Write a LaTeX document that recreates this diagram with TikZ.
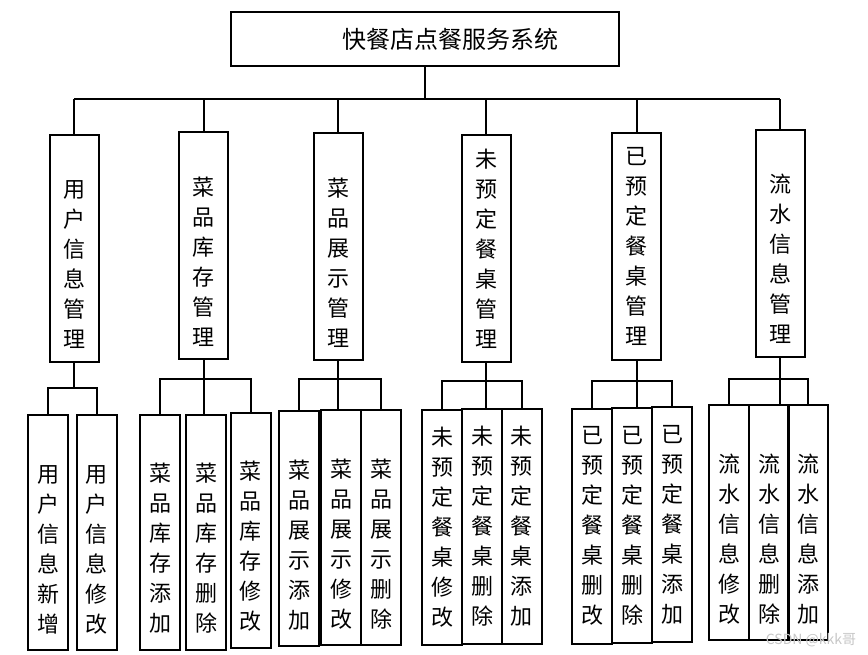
\documentclass[tikz,border=0pt]{standalone}
\usepackage{fontspec}
\setmainfont{Noto Sans CJK SC}

\begin{document}
\begin{tikzpicture}[x=0.75pt, y=-0.75pt, line width=1.5pt,
    sysbox/.style={draw, minimum width=291pt, minimum height=40.5pt, inner sep=0pt, font=\fontsize{18}{20}\selectfont},
    modbox/.style={draw, minimum width=36.75pt, minimum height=170.25pt, inner sep=0pt, align=center, font=\fontsize{16.5}{22.5}\selectfont},
    leafbox/.style={draw, minimum width=30pt, minimum height=176.25pt, inner sep=0pt, align=center, font=\fontsize{16.5}{22.5}\selectfont}
]
    \useasboundingbox (0,0) rectangle (868,654);
    % top
    \node[sysbox] (root) at (425,39) {\hspace*{37.5pt}快餐店点餐服务系统};
    % modules
    \node[modbox] (um) at (74,248) {\strut\\用\\户\\信\\息\\管\\理};
    \node[modbox] (sk) at (203.5,245.5) {\strut\\菜\\品\\库\\存\\管\\理};
    \node[modbox] (sz) at (338,246.5) {\strut\\菜\\品\\展\\示\\管\\理};
    \node[modbox] (wy) at (486,248.5) {未\\预\\定\\餐\\桌\\管\\理};
    \node[modbox] (yy) at (636.5,246.5) {已\\预\\定\\餐\\桌\\管\\理};
    \node[modbox] (ls) at (780,243) {\strut\\流\\水\\信\\息\\管\\理};
    % leaves
    \node[leafbox] (umA) at (48,532.5) {\strut\\用\\户\\信\\息\\新\\增};
    \node[leafbox] (umB) at (96.5,532.5) {\strut\\用\\户\\信\\息\\修\\改};
    \node[leafbox] (skA) at (160,532) {\strut\\菜\\品\\库\\存\\添\\加};
    \node[leafbox] (skB) at (206,532) {\strut\\菜\\品\\库\\存\\删\\除};
    \node[leafbox] (skC) at (250.5,530) {\strut\\菜\\品\\库\\存\\修\\改};
    \node[leafbox] (szA) at (299,528.5) {\strut\\菜\\品\\展\\示\\添\\加};
    \node[leafbox] (szB) at (341,527.5) {\strut\\菜\\品\\展\\示\\修\\改};
    \node[leafbox] (szC) at (381,527.5) {\strut\\菜\\品\\展\\示\\删\\除};
    \node[leafbox] (wyA) at (442,527) {未\\预\\定\\餐\\桌\\修\\改};
    \node[leafbox] (wyB) at (482,526) {未\\预\\定\\餐\\桌\\删\\除};
    \node[leafbox] (wyC) at (521.5,526) {未\\预\\定\\餐\\桌\\添\\加};
    \node[leafbox] (yyA) at (592,526) {已\\预\\定\\餐\\桌\\删\\改};
    \node[leafbox] (yyB) at (632,525.5) {已\\预\\定\\餐\\桌\\删\\除};
    \node[leafbox] (yyC) at (672,524.5) {已\\预\\定\\餐\\桌\\添\\加};
    \node[leafbox] (lsA) at (729,522.5) {\strut\\流\\水\\信\\息\\修\\改};
    \node[leafbox] (lsB) at (769,522.5) {\strut\\流\\水\\信\\息\\删\\除};
    \node[leafbox] (lsC) at (808,522.5) {\strut\\流\\水\\信\\息\\添\\加};
    % root to modules
    \coordinate (bus) at (0,99);
    \draw (root.south) -- (root.south |- bus);
    \draw (um.north |- bus) -- (ls.north |- bus);
    \foreach \m in {um,sk,sz,wy,yy,ls}
        \draw (\m.north) -- (\m.north |- bus);
    % modules to leaves
    \draw (um.south) -- ++(0,26);
    \draw (umA.north) -- ++(0,-26) -| (umB.north);
    \draw (sk.south) -- (sk.south |- skB.north);
    \draw (skA.north) -- ++(0,-35) -| (skC.north);
    \draw (sz.south) -- (sz.south |- szB.north);
    \draw (szA.north) -- ++(0,-31) -| (szC.north);
    \draw (wy.south) -- (wy.south |- wyB.north);
    \draw (wyA.north) -- ++(0,-28) -| (wyC.north);
    \draw (yy.south) -- (yy.south |- yyB.north);
    \draw (yyA.north) -- ++(0,-27) -| (yyC.north);
    \draw (ls.south) -- (ls.south |- lsB.north);
    \draw (lsA.north) -- ++(0,-25) -| (lsC.north);
    \node[text=gray!45, font=\fontsize{10.5}{12}\selectfont] (mark) at (811,640) {CSDN @kkk哥};
\end{tikzpicture}
\end{document}
